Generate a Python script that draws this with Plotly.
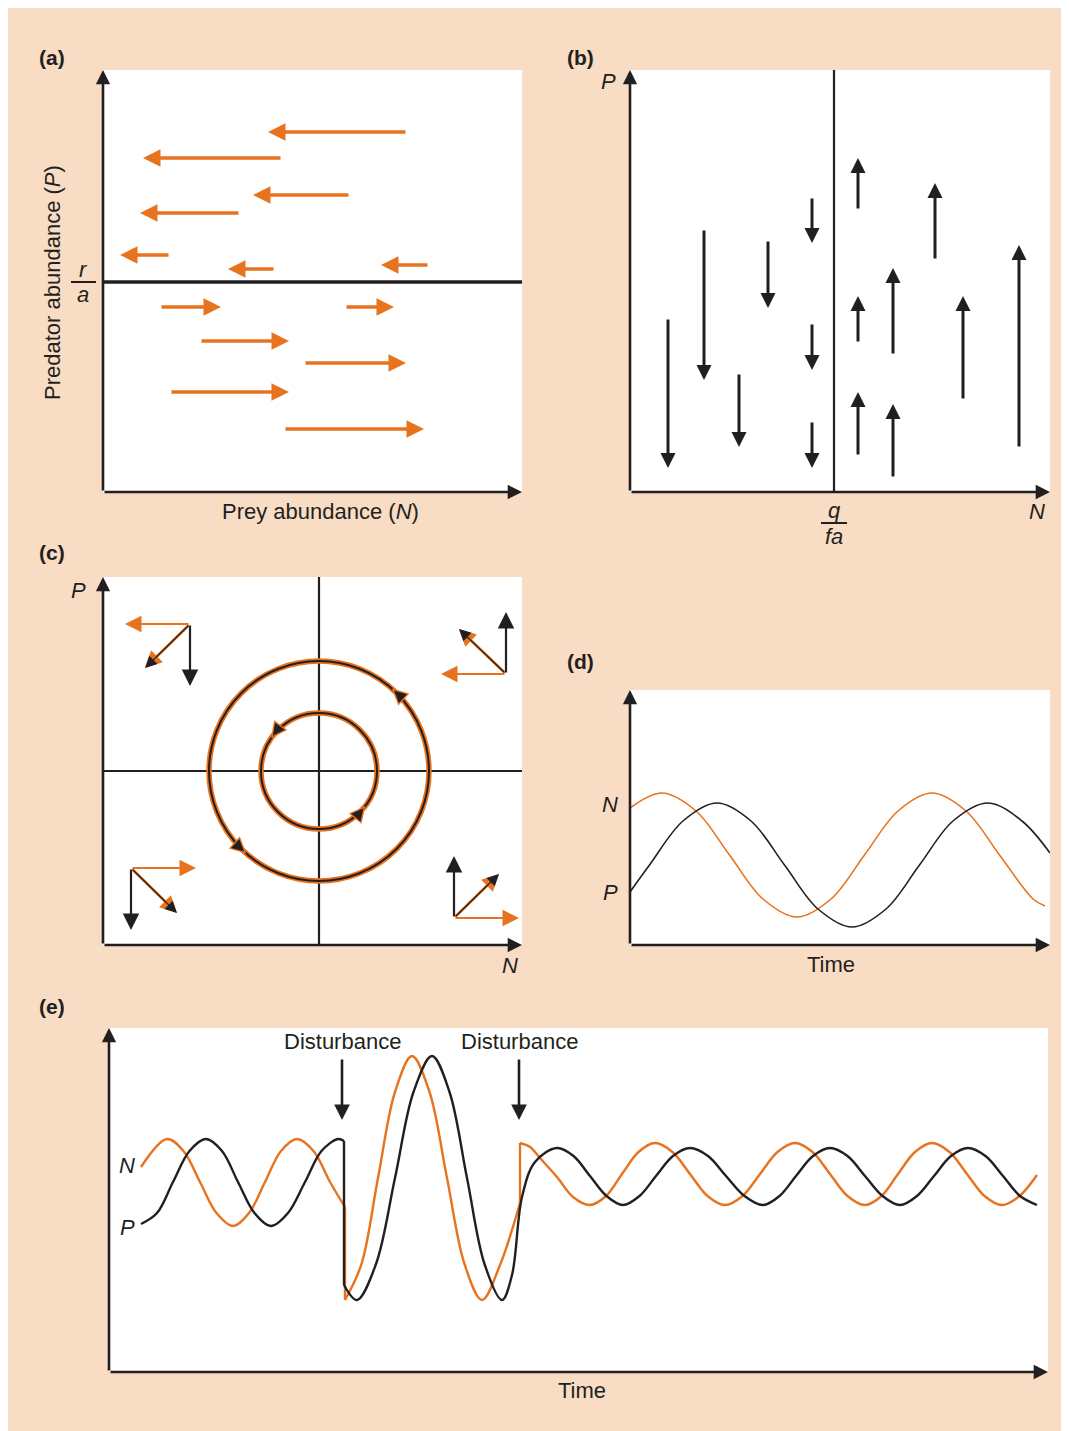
import math
import plotly.graph_objects as go

PAGE_OFF = 8            # browser body margin around the figure
WF, HF = 1057, 1423     # figure size
PEACH = "#F8DCC3"
ORANGE = "#E8731F"
INK = "#231F20"
FONT = "Arial, Liberation Sans, Helvetica, sans-serif"

# ---------------- data ----------------
# (a) prey zero-growth isocline (predator level) and horizontal prey-change arrows
a_isocline_P = 21.0
a_left_tail = [30.4, 17.9, 24.7, 13.7, 6.7, 17.2, 32.6]
a_left_head = [16.5, 4.0, 15.0, 3.7, 1.7, 12.5, 27.8]
a_left_P = [36.0, 33.4, 29.7, 27.9, 23.7, 22.3, 22.7]
a_right_tail = [5.7, 24.2, 9.7, 20.1, 6.7, 18.1]
a_right_head = [11.8, 29.1, 18.6, 30.3, 18.6, 32.1]
a_right_P = [18.5, 18.5, 15.1, 12.9, 10.0, 6.3]

# (b) predator zero-growth isocline (prey level) and vertical predator-change arrows
b_isocline_N = 20.4
b_down_N = [3.8, 7.4, 10.9, 13.8, 18.2, 18.2, 18.2]
b_down_tail = [17.4, 26.3, 11.9, 25.2, 29.5, 16.9, 7.1]
b_down_head = [2.4, 11.2, 4.5, 18.4, 24.9, 12.2, 2.4]
b_up_N = [22.8, 30.5, 22.8, 26.3, 33.3, 38.9, 22.8, 26.3]
b_up_tail = [28.2, 23.2, 14.9, 13.7, 9.2, 4.4, 3.6, 1.4]
b_up_head = [33.4, 30.9, 19.6, 22.4, 19.6, 24.7, 10.0, 8.8]

# (c) joint phase plane
c_eq_N, c_eq_P = 21.6, 17.4
c_radii = [11.0, 5.8]
c_cycle_arrow_deg = [[47.5, 227.6], [143.7, 321.0]]
c_corner_N = [8.7, 40.3, 2.8, 35.1]
c_corner_P = [32.1, 27.1, 7.7, 2.7]
c_prey_dN = [-6.5, -6.5, 6.5, 6.5]
c_pred_dP = [-6.2, 6.2, -6.2, 6.2]
c_result_N = [4.2, 35.6, 7.4, 39.6]
c_result_P = [27.7, 31.6, 3.2, 7.1]

# (d) coupled oscillations
d_N_t = [0, 3.2, 6.6, 9.95, 13.3, 16.7, 20.1, 23.45, 26.8, 30.2, 33.6, 36.95, 40.3, 41.5]
d_N = [13.7, 15.2, 13.4, 9.0, 4.6, 2.8, 4.6, 9.0, 13.4, 15.2, 13.4, 9.0, 4.6, 3.9]
d_P_t = [0, 1.95, 5.3, 8.7, 12.1, 15.45, 18.8, 22.2, 25.6, 28.95, 32.3, 35.8, 39.2, 42.0]
d_P = [5.3, 8.0, 12.4, 14.2, 12.4, 8.0, 3.6, 1.8, 3.6, 8.0, 12.4, 14.2, 12.4, 9.2]

# (e) neutral cycles with disturbances
e_dist_t = [23.3, 41.0]
e_N_t1 = [3.2, 5.8, 7.45, 9.1, 10.75, 12.4, 14.0, 15.6, 17.2, 18.8, 20.45, 22.1, 23.6]
e_N_1 = [20.5, 23.3, 22.1, 19.0, 15.9, 14.6, 15.9, 19.0, 22.1, 23.3, 22.1, 19.0, 16.5]
e_N_t2 = [23.6, 25.25, 26.9, 28.6, 30.3, 32.05, 33.8, 35.55, 37.3, 39.1, 41.1]
e_N_2 = [7.2, 10.8, 19.4, 28.0, 31.6, 28.0, 19.4, 10.8, 7.2, 10.7, 16.9]
e_N_t3 = [41.1, 42.1, 43.1, 44.8, 46.4, 48.1, 49.7, 51.3, 52.95, 54.6, 56.35,
          58.1, 59.85, 61.6, 63.35, 65.1, 66.85, 68.6, 70.35, 72.1, 73.85,
          75.6, 77.25, 78.9, 80.6, 82.3, 84.05, 85.8, 87.55, 89.3, 91.05, 92.8]
e_N_3 = [22.9, 22.5, 21.4, 19.5, 17.5, 16.7, 17.6, 19.8, 22.0, 22.9, 22.0,
         19.8, 17.6, 16.7, 17.6, 19.8, 22.0, 22.9, 22.0, 19.8, 17.6,
         16.7, 17.6, 19.8, 22.0, 22.9, 22.0, 19.8, 17.6, 16.7, 17.6, 19.7]
e_P_t1 = [3.2, 4.8, 6.4, 8.05, 9.7, 11.3, 12.9, 14.55, 16.2, 17.9, 19.6, 21.25, 22.9, 23.5]
e_P_1 = [14.8, 15.9, 19.0, 22.1, 23.3, 22.1, 19.0, 15.9, 14.6, 15.9, 19.0, 22.1, 23.3, 23.1]
e_P_t2 = [23.5, 24.8, 26.7, 28.6, 30.45, 32.3, 34.05, 35.8, 37.55, 39.3,
          40.3, 41.3, 42.6, 44.8, 46.45, 48.1, 49.75, 51.4, 53.05, 54.7,
          56.4, 58.1, 59.9, 61.7, 63.55, 65.4, 67.05, 68.7, 70.4, 72.1,
          73.85, 75.6, 77.35, 79.1, 80.8, 82.5, 84.2, 85.9, 87.65, 89.4,
          91.1, 92.8]
e_P_2 = [8.7, 7.2, 10.8, 19.4, 28.0, 31.6, 28.0, 19.4, 10.8, 7.2,
         9.7, 17.5, 21.0, 22.4, 21.6, 19.6, 17.6, 16.7, 17.6, 19.6,
         21.6, 22.4, 21.6, 19.6, 17.6, 16.7, 17.6, 19.6, 21.6, 22.4,
         21.6, 19.6, 17.6, 16.7, 17.6, 19.6, 21.6, 22.4, 21.6, 19.6,
         17.6, 16.7]

# ---------------- layout helpers ----------------
panels = {  # page-pixel boxes (left, top, right, bottom) and axis ranges
    1: ((103, 70, 522, 492), 41.9, 42.2),
    2: ((630, 70, 1050, 492), 42.0, 42.2),
    3: ((103, 577, 522, 945), 41.9, 36.8),
    4: ((630, 690, 1050, 945), 42.0, 25.5),
    5: ((109, 1028, 1048, 1372), 93.9, 34.4),
}


def px(x):
    return (x - PAGE_OFF) / WF


def py(y):
    return 1 - (y - PAGE_OFF) / HF


def xr(i):
    return "x" if i == 1 else f"x{i}"


def yr(i):
    return "y" if i == 1 else f"y{i}"


fig = go.Figure()
annotations = []
shapes = []


def arrow(i, x0, y0, x1, y1, color=INK, width=3, size=1.0, head=2):
    annotations.append(dict(
        xref=xr(i), yref=yr(i), axref=xr(i), ayref=yr(i),
        x=x1, y=y1, ax=x0, ay=y0, text="", showarrow=True,
        arrowhead=head, arrowsize=size, arrowwidth=width, arrowcolor=color,
        standoff=0))


def label(x, y, text, size=22, angle=0):
    annotations.append(dict(
        xref="paper", yref="paper", x=px(x), y=py(y), text=text,
        showarrow=False, textangle=angle, xanchor="center", yanchor="middle",
        font=dict(family=FONT, size=size, color=INK)))


def line(i, xs, ys, color=INK, width=2, spline=False, smoothing=1.0):
    fig.add_trace(go.Scatter(
        x=xs, y=ys, mode="lines", xaxis=xr(i), yaxis=yr(i), hoverinfo="skip",
        line=dict(color=color, width=width,
                  shape="spline" if spline else "linear",
                  smoothing=smoothing if spline else None),
        showlegend=False))


layout_axes = {}
for i, ((l, t, r, b), xmax, ymax) in panels.items():
    xname = "xaxis" if i == 1 else f"xaxis{i}"
    yname = "yaxis" if i == 1 else f"yaxis{i}"
    layout_axes[xname] = dict(domain=[px(l), px(r)], range=[0, xmax],
                              visible=False, fixedrange=True, anchor=yr(i))
    layout_axes[yname] = dict(domain=[py(b), py(t)], range=[0, ymax],
                              visible=False, fixedrange=True, anchor=xr(i))

# ---------------- panel (a) ----------------
line(1, [0, panels[1][1]], [a_isocline_P, a_isocline_P], width=3.5)
for x0, x1, p in zip(a_left_tail, a_left_head, a_left_P):
    arrow(1, x0, p, x1, p, ORANGE, width=3.5, size=1.0)
for x0, x1, p in zip(a_right_tail, a_right_head, a_right_P):
    arrow(1, x0, p, x1, p, ORANGE, width=3.5, size=1.0)

# ---------------- panel (b) ----------------
line(2, [b_isocline_N, b_isocline_N], [0, panels[2][2]], width=2.2)
for n, y0, y1 in zip(b_down_N, b_down_tail, b_down_head):
    arrow(2, n, y0, n, y1, INK, width=3, size=1.0)
for n, y0, y1 in zip(b_up_N, b_up_tail, b_up_head):
    arrow(2, n, y0, n, y1, INK, width=3, size=1.0)

# ---------------- panel (c) ----------------
line(3, [c_eq_N, c_eq_N], [0, panels[3][2]], width=2.2)
line(3, [0, panels[3][1]], [c_eq_P, c_eq_P], width=2.2)
for rad in c_radii:
    for col, wd in ((ORANGE, 5.5), (INK, 2)):
        shapes.append(dict(type="circle", xref="x3", yref="y3",
                           x0=c_eq_N - rad, x1=c_eq_N + rad,
                           y0=c_eq_P - rad, y1=c_eq_P + rad,
                           line=dict(color=col, width=wd)))
for rad, angs in zip(c_radii, c_cycle_arrow_deg):
    for ang in angs:
        th = math.radians(ang)
        hx, hy = c_eq_N + rad * math.cos(th), c_eq_P + rad * math.sin(th)
        tx, ty = -math.sin(th), math.cos(th)
        arrow(3, hx - 1.2 * tx, hy - 1.2 * ty, hx + 0.2 * tx, hy + 0.2 * ty,
              ORANGE, width=2.5, size=1.3)
        arrow(3, hx - 1.2 * tx, hy - 1.2 * ty, hx - 0.1 * tx, hy - 0.1 * ty,
              INK, width=1.6, size=1.5)
for n0, p0, dn, dp, rn, rp in zip(c_corner_N, c_corner_P, c_prey_dN,
                                  c_pred_dP, c_result_N, c_result_P):
    arrow(3, n0, p0, n0 + dn, p0, ORANGE, width=2.2, size=1.5)
    arrow(3, n0, p0, n0, p0 + dp, INK, width=2.2, size=1.5)
    arrow(3, n0, p0, rn, rp, ORANGE, width=2.8, size=1.2)
    arrow(3, n0, p0, rn, rp, INK, width=1.3, size=1.8)

# ---------------- panel (d) ----------------
line(4, d_N_t, d_N, ORANGE, 1.6, spline=True, smoothing=1.0)
line(4, d_P_t, d_P, INK, 1.6, spline=True, smoothing=1.0)

# ---------------- panel (e) ----------------
for ts, vs in ((e_N_t1, e_N_1), (e_N_t2, e_N_2), (e_N_t3, e_N_3)):
    line(5, ts, vs, ORANGE, 2.4, spline=True, smoothing=1.0)
line(5, [e_N_t1[-1], e_N_t2[0]], [e_N_1[-1], e_N_2[0]], ORANGE, 2.4)
line(5, [e_N_t2[-1], e_N_t3[0]], [e_N_2[-1], e_N_3[0]], ORANGE, 2.4)
for ts, vs in ((e_P_t1, e_P_1), (e_P_t2, e_P_2)):
    line(5, ts, vs, INK, 2.4, spline=True, smoothing=1.0)
line(5, [e_P_t1[-1], e_P_t2[0]], [e_P_1[-1], e_P_2[0]], INK, 2.4)
for t in e_dist_t:
    arrow(5, t, 31.4, t, 25.2, INK, width=2.6, size=1.2)

# ---------------- axes with arrowheads ----------------
for i, (_, xmax, ymax) in panels.items():
    arrow(i, 0, 0, xmax, 0, INK, width=2.6, size=1.1)
    arrow(i, 0, 0, 0, ymax, INK, width=2.6, size=1.1)

# ---------------- text ----------------
for txt, x, y in (("(a)", 52, 57), ("(b)", 580, 57), ("(c)", 52, 552),
                  ("(d)", 580, 661), ("(e)", 52, 1006)):
    label(x, y, f"<b>{txt}</b>", size=21)
label(52, 283, "Predator abundance (<i>P</i>)", angle=-90)
label(320, 512, "Prey abundance (<i>N</i>)")
label(83, 269, "<i>r</i>")
label(83, 295, "<i>a</i>")
label(608, 82, "<i>P</i>")
label(1037, 512, "<i>N</i>")
label(834, 510, "<i>q</i>")
label(834, 536, "<i>fa</i>")
label(78, 590, "<i>P</i>")
label(510, 966, "<i>N</i>")
label(610, 805, "<i>N</i>")
label(610, 892, "<i>P</i>")
label(831, 964, "Time")
label(127, 1165, "<i>N</i>")
label(127, 1227, "<i>P</i>")
label(582, 1390, "Time")
label(342, 1041, "Disturbance")
label(519, 1041, "Disturbance")

# fraction bars
for x0, x1, y in ((71, 96, 282), (821, 847, 523)):
    shapes.append(dict(type="line", xref="paper", yref="paper",
                       x0=px(x0), x1=px(x1), y0=py(y), y1=py(y),
                       line=dict(color=INK, width=2)))

fig.update_layout(
    width=WF, height=HF, margin=dict(l=0, r=0, t=0, b=0),
    paper_bgcolor=PEACH, plot_bgcolor="white", showlegend=False,
    annotations=annotations, shapes=shapes, **layout_axes)

fig.write_html("out.html")
